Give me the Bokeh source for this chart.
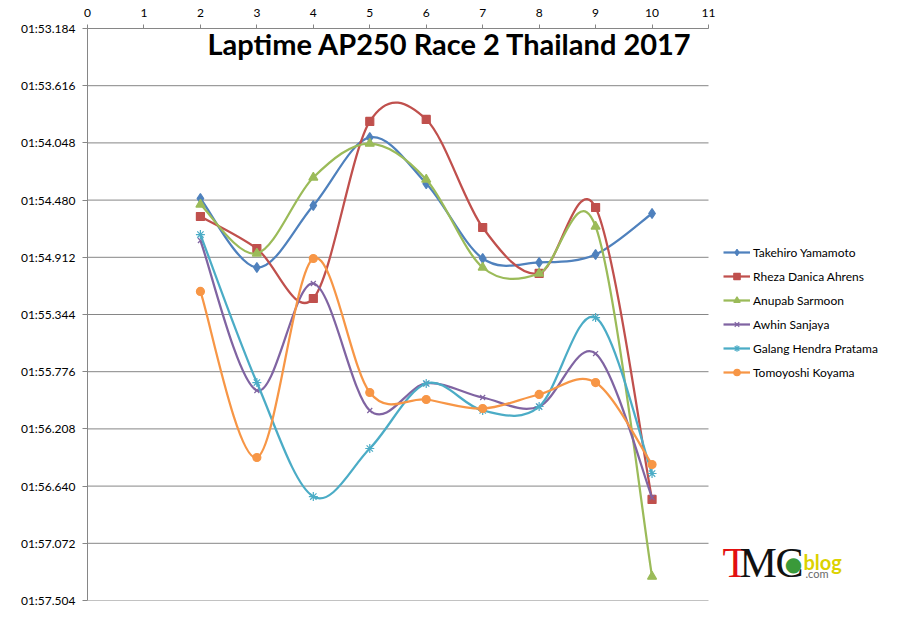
from bokeh.plotting import figure
from bokeh.models import Range1d, FixedTicker, Legend, LegendItem, Label, ColumnDataSource
from bokeh.embed import file_html
from bokeh.resources import INLINE

# ---------------- data (lap times in seconds, 1:53.184 = 113.184) ----------------
laps = [2, 3, 4, 5, 6, 7, 8, 9, 10]
takehiro = [114.468, 114.989, 114.521, 114.007, 114.355, 114.921, 114.951, 114.891, 114.581]
rheza = [114.604, 114.846, 115.223, 113.886, 113.871, 114.687, 115.034, 114.536, 116.741]
anupab = [114.513, 114.883, 114.309, 114.053, 114.324, 114.989, 115.034, 114.679, 117.323]
awhin = [114.785, 115.918, 115.110, 116.069, 115.865, 115.971, 116.039, 115.639, 116.726]
galang = [114.740, 115.858, 116.719, 116.356, 115.865, 116.069, 116.039, 115.367, 116.545]
tomoyoshi = [115.170, 116.424, 114.921, 115.933, 115.986, 116.054, 115.948, 115.858, 116.477]

riders = ["Takehiro Yamamoto", "Rheza Danica Ahrens", "Anupab Sarmoon",
          "Awhin Sanjaya", "Galang Hendra Pratama", "Tomoyoshi Koyama"]
series = [takehiro, rheza, anupab, awhin, galang, tomoyoshi]

x_ticks = [0, 1, 2, 3, 4, 5, 6, 7, 8, 9, 10, 11]
y_ticks = [113.184, 113.616, 114.048, 114.48, 114.912, 115.344, 115.776,
           116.208, 116.64, 117.072, 117.504]
y_tick_labels = ["01:53.184", "01:53.616", "01:54.048", "01:54.480", "01:54.912",
                 "01:55.344", "01:55.776", "01:56.208", "01:56.640", "01:57.072",
                 "01:57.504"]
title_text = "Laptime AP250 Race 2 Thailand 2017"

# ---------------- styles / layout ----------------
colors = ["#4F81BD", "#C0504D", "#9BBB59", "#8064A2", "#4BACC6", "#F79646"]
markers = ["diamond", "square", "triangle", "x", "asterisk", "circle"]
msizes = [10, 8, 9, 7, 9, 8]
GRID = "#868686"
FONT = "Lato"

W, H = 881, 608
LEFT, TOP, BOTTOM_PX = 87, 28, 600          # plot-area edges (pixels)
AXIS_W = 621.0                               # pixel width of x 0..11
frame_w = W - LEFT
x_end = x_ticks[-1] * frame_w / AXIS_W      # frame extends right to hold legend/logo

p = figure(width=W, height=H, output_backend="svg", toolbar_location=None,
           x_range=Range1d(x_ticks[0], x_end),
           y_range=Range1d(y_ticks[-1], y_ticks[0]),
           x_axis_location="above",
           min_border_left=LEFT, min_border_right=0,
           min_border_top=TOP, min_border_bottom=H - BOTTOM_PX,
           background_fill_color="white", border_fill_color="white")
p.outline_line_color = None

# axes
for ax in (p.xaxis[0], p.yaxis[0]):
    ax.axis_line_color = GRID
    ax.major_tick_line_color = GRID
    ax.minor_tick_line_color = None
    ax.major_tick_in = 0
    ax.major_label_text_font = FONT
    ax.major_label_text_font_size = "12px"
    ax.major_label_text_color = "#000000"

p.xaxis[0].ticker = FixedTicker(ticks=x_ticks)
p.xaxis[0].bounds = (x_ticks[0], x_ticks[-1])
p.xaxis[0].major_tick_out = 4
p.xaxis[0].major_label_standoff = 8

p.yaxis[0].ticker = FixedTicker(ticks=y_ticks)
p.yaxis[0].major_label_overrides = {t: l for t, l in zip(y_ticks, y_tick_labels)}
p.yaxis[0].major_tick_out = 5
p.yaxis[0].major_label_standoff = 7

p.grid.visible = False
# horizontal gridlines only across the 0..11 plot area
p.segment(x0=[x_ticks[0]] * len(y_ticks), x1=[x_ticks[-1]] * len(y_ticks),
          y0=y_ticks, y1=y_ticks, line_color=GRID, line_width=1)


def smooth_segments(xs, ys):
    """Bezier control points (Excel-style smoothed line) through the data points."""
    n = len(xs)
    d = dict(x0=[], y0=[], x1=[], y1=[], cx0=[], cy0=[], cx1=[], cy1=[])
    for i in range(n - 1):
        i0 = max(i - 1, 0)
        i3 = min(i + 2, n - 1)
        x0, y0 = xs[i], ys[i]
        x1, y1 = xs[i + 1], ys[i + 1]
        d["x0"].append(x0); d["y0"].append(y0)
        d["x1"].append(x1); d["y1"].append(y1)
        d["cx0"].append(x0 + (x1 - xs[i0]) / 6.0)
        d["cy0"].append(y0 + (y1 - ys[i0]) / 6.0)
        d["cx1"].append(x1 - (xs[i3] - x0) / 6.0)
        d["cy1"].append(y1 - (ys[i3] - y0) / 6.0)
    return ColumnDataSource(d)


items = []
for name, vals, col, mk, ms in zip(riders, series, colors, markers, msizes):
    src = smooth_segments(laps, vals)
    p.bezier(x0="x0", y0="y0", x1="x1", y1="y1", cx0="cx0", cy0="cy0",
             cx1="cx1", cy1="cy1", source=src, line_color=col, line_width=2.25)
    # one-point line (draws nothing on the plot) used for the legend's line swatch
    leg_line = p.line(x=laps[:1], y=vals[:1], line_color=col, line_width=2.25)
    sc = p.scatter(laps, vals, marker=mk, size=ms, fill_color=col, line_color=col,
                   line_width=1.2)
    items.append(LegendItem(label=name, renderers=[leg_line, sc]))

legend = Legend(items=items, location=(723 - LEFT, BOTTOM_PX - 380), padding=0, margin=0,
                border_line_color=None, background_fill_alpha=0,
                glyph_width=27, glyph_height=16, label_height=16,
                label_standoff=3, spacing=8,
                label_text_font=FONT, label_text_font_size="12px",
                label_text_color="#000000")
p.add_layout(legend)


# helpers converting pixel positions to data positions (layout only)
def dx(px):
    return (px - LEFT) / (AXIS_W / 11.0)


def dy(py):
    return y_ticks[0] + (py - TOP) * (y_ticks[-1] - y_ticks[0]) / (BOTTOM_PX - TOP)


p.add_layout(Label(x=dx(207), y=dy(43), text=title_text, text_font=FONT,
                   text_font_size="29px", text_font_style="bold",
                   text_color="#000000", text_align="left",
                   text_baseline="alphabetic"))

# TMC blog logo
p.add_layout(Label(x=dx(722), y=dy(562), text="T", text_font="Liberation Serif",
                   text_font_size="42px", text_color="#E21010",
                   text_baseline="alphabetic"))
p.add_layout(Label(x=dx(739), y=dy(562), text="M", text_font="Liberation Serif",
                   text_font_size="42px", text_color="#111111",
                   text_baseline="alphabetic"))
p.add_layout(Label(x=dx(775), y=dy(562), text="C", text_font="Liberation Serif",
                   text_font_size="42px", text_color="#111111",
                   text_baseline="alphabetic"))
p.add_layout(Label(x=dx(793), y=dy(563), text="\u25CF", text_font="DejaVu Sans",
                   text_font_size="20px", text_color="#3A9A3A", text_align="center",
                   text_baseline="alphabetic"))
p.add_layout(Label(x=dx(803), y=dy(561), text="blog", text_font=FONT,
                   text_font_size="20px", text_font_style="bold",
                   text_color="#DCD200", text_baseline="alphabetic"))
p.add_layout(Label(x=dx(805), y=dy(573), text=".com", text_font=FONT,
                   text_font_size="11px", text_color="#6A6A6A",
                   text_baseline="alphabetic"))

open("out.html", "w").write(file_html(p, INLINE))
